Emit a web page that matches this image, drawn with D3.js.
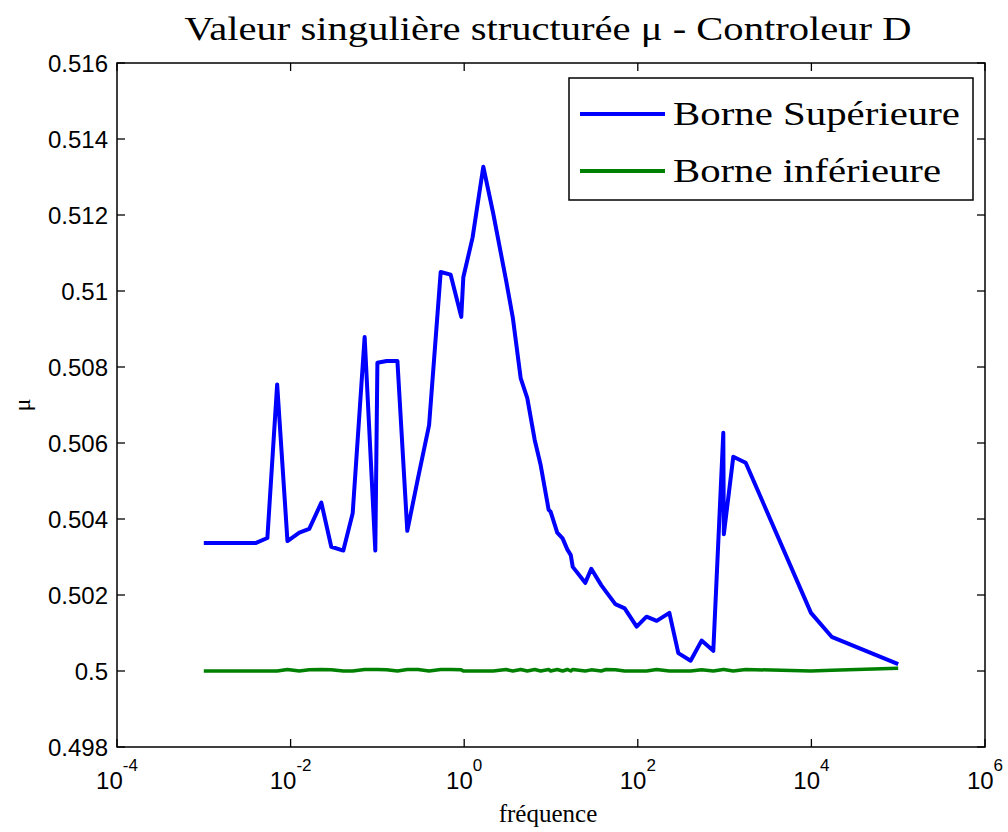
<!DOCTYPE html>
<html><head><meta charset="utf-8">
<script src="https://cdn.jsdelivr.net/npm/d3@7"></script>
<style>body{margin:0;background:#fff}svg{display:block}</style>
</head><body>
<svg id="c" width="1008" height="832"></svg>
<script>
const freq = [0.001,0.0040,0.0054,0.0070,0.0092,0.0126,0.0164,0.0226,0.0294,0.0405,0.0519,0.0713,0.0946,0.1,0.128,0.170,0.221,0.294,0.394,0.536,0.698,0.925,0.977,1.25,1.66,2.16,3.03,3.63,4.48,5.33,6.49,7.60,9.40,9.91,11.8,13.6,15.4,16.9,17.8,24.8,29.1,37.9,43.0,55.1,70.6,97.0,126,165,231,293,406,543,741,966,980,1259,1750,9886,17100,1e5];
const upper = [0.50337,0.50337,0.5035,0.50754,0.50342,0.50364,0.50374,0.50443,0.50327,0.50317,0.50415,0.50879,0.50317,0.50811,0.50816,0.50816,0.50369,0.50508,0.50647,0.5105,0.51043,0.50932,0.51036,0.51141,0.51327,0.51204,0.51029,0.5093,0.5077,0.50718,0.50608,0.50542,0.50424,0.50419,0.50364,0.50349,0.5032,0.50305,0.50274,0.50232,0.50269,0.50226,0.50209,0.50176,0.50165,0.50117,0.50143,0.50132,0.50153,0.50047,0.50027,0.5008,0.50053,0.50627,0.5036,0.50564,0.50548,0.50153,0.5009,0.50018];
const lower = [0.5,0.5,0.5,0.5,0.50004,0.5,0.50003,0.50004,0.50003,0.5,0.5,0.50004,0.50004,0.50004,0.50003,0.5,0.50004,0.50004,0.5,0.50004,0.50004,0.50003,0.5,0.5,0.5,0.5,0.50004,0.5,0.50004,0.5,0.50004,0.5,0.50004,0.5,0.50004,0.5,0.50004,0.5,0.50004,0.5,0.50003,0.5,0.50004,0.50003,0.5,0.5,0.5,0.50004,0.5,0.5,0.5,0.50003,0.5,0.50004,0.50004,0.5,0.50004,0.5,0.50002,0.50007];
const xTickExp = [-4,-2,0,2,4,6];
const yTicks = [0.498,0.5,0.502,0.504,0.506,0.508,0.51,0.512,0.514,0.516];
const yTickLabels = ["0.498","0.5","0.502","0.504","0.506","0.508","0.51","0.512","0.514","0.516"];
const seriesNames = ["Borne Supérieure","Borne inférieure"];
const seriesColors = ["#0000ff","#008000"];
const titleText = "Valeur singulière structurée \u03bc - Controleur D";

const L=117,R=985,T=63,B=747;
const svg=d3.select("#c");
const x=d3.scaleLog().domain([1e-4,1e6]).range([L,R]);
const y=d3.scaleLinear().domain([0.498,0.516]).range([B,T]);

// lines
const line=d3.line().x((d,i)=>x(freq[i])).y(d=>y(d));
[upper,lower].forEach((s,k)=>{
  svg.append("path").attr("d",line(s)).attr("fill","none")
    .attr("stroke",seriesColors[k]).attr("stroke-width",k?3.5:4).attr("stroke-linejoin","round");
});

// axes box
svg.append("rect").attr("x",L).attr("y",T).attr("width",R-L).attr("height",B-T)
  .attr("fill","none").attr("stroke","#000").attr("stroke-width",1.5);

const tk=8;
const g=svg.append("g").attr("stroke","#000").attr("stroke-width",1.3);
xTickExp.forEach(e=>{
  const xx=x(Math.pow(10,e));
  g.append("line").attr("x1",xx).attr("x2",xx).attr("y1",B).attr("y2",B-tk);
  g.append("line").attr("x1",xx).attr("x2",xx).attr("y1",T).attr("y2",T+tk);
});
yTicks.forEach(v=>{
  const yy=y(v);
  g.append("line").attr("x1",L).attr("x2",L+tk).attr("y1",yy).attr("y2",yy);
  g.append("line").attr("x1",R).attr("x2",R-tk).attr("y1",yy).attr("y2",yy);
});

// y tick labels
yTicks.forEach((v,i)=>{
  svg.append("text").attr("x",L-9).attr("y",y(v)).attr("dy","0.36em")
    .attr("text-anchor","end").attr("font-family","Liberation Sans, Arial, sans-serif")
    .attr("font-size",24).text(yTickLabels[i]);
});
// x tick labels
xTickExp.forEach(e=>{
  const xx=x(Math.pow(10,e));
  const t=svg.append("text").attr("x",xx).attr("y",789)
    .attr("text-anchor","middle").attr("font-family","Liberation Sans, Arial, sans-serif").attr("font-size",24);
  t.append("tspan").text("10");
  t.append("tspan").attr("dy",-18).attr("font-size",17).text(e);
});

// title
svg.append("text").attr("x",548).attr("y",40).attr("text-anchor","middle")
  .attr("font-family","Liberation Serif, serif").attr("font-size",34)
  .attr("textLength",727).attr("lengthAdjust","spacingAndGlyphs").text(titleText);
// axis labels
svg.append("text").attr("x",548).attr("y",822).attr("text-anchor","middle")
  .attr("font-family","Liberation Serif, serif").attr("font-size",25).text("fréquence");
svg.append("text").attr("transform","translate(30,405) rotate(-90)").attr("text-anchor","middle")
  .attr("font-family","Liberation Serif, serif").attr("font-size",24).text("\u03bc");

// legend
const lg=svg.append("g");
lg.append("rect").attr("x",569).attr("y",78).attr("width",404).attr("height",122)
  .attr("fill","#fff").attr("stroke","#000").attr("stroke-width",1.5);
seriesNames.forEach((n,k)=>{
  const yy=114+k*57;
  lg.append("line").attr("x1",580).attr("x2",665).attr("y1",yy).attr("y2",yy)
    .attr("stroke",seriesColors[k]).attr("stroke-width",4);
  lg.append("text").attr("x",673).attr("y",yy+11).attr("font-family","Liberation Serif, serif")
    .attr("font-size",34).attr("textLength",k?268:287).attr("lengthAdjust","spacingAndGlyphs").text(n);
});
</script>
</body></html>
